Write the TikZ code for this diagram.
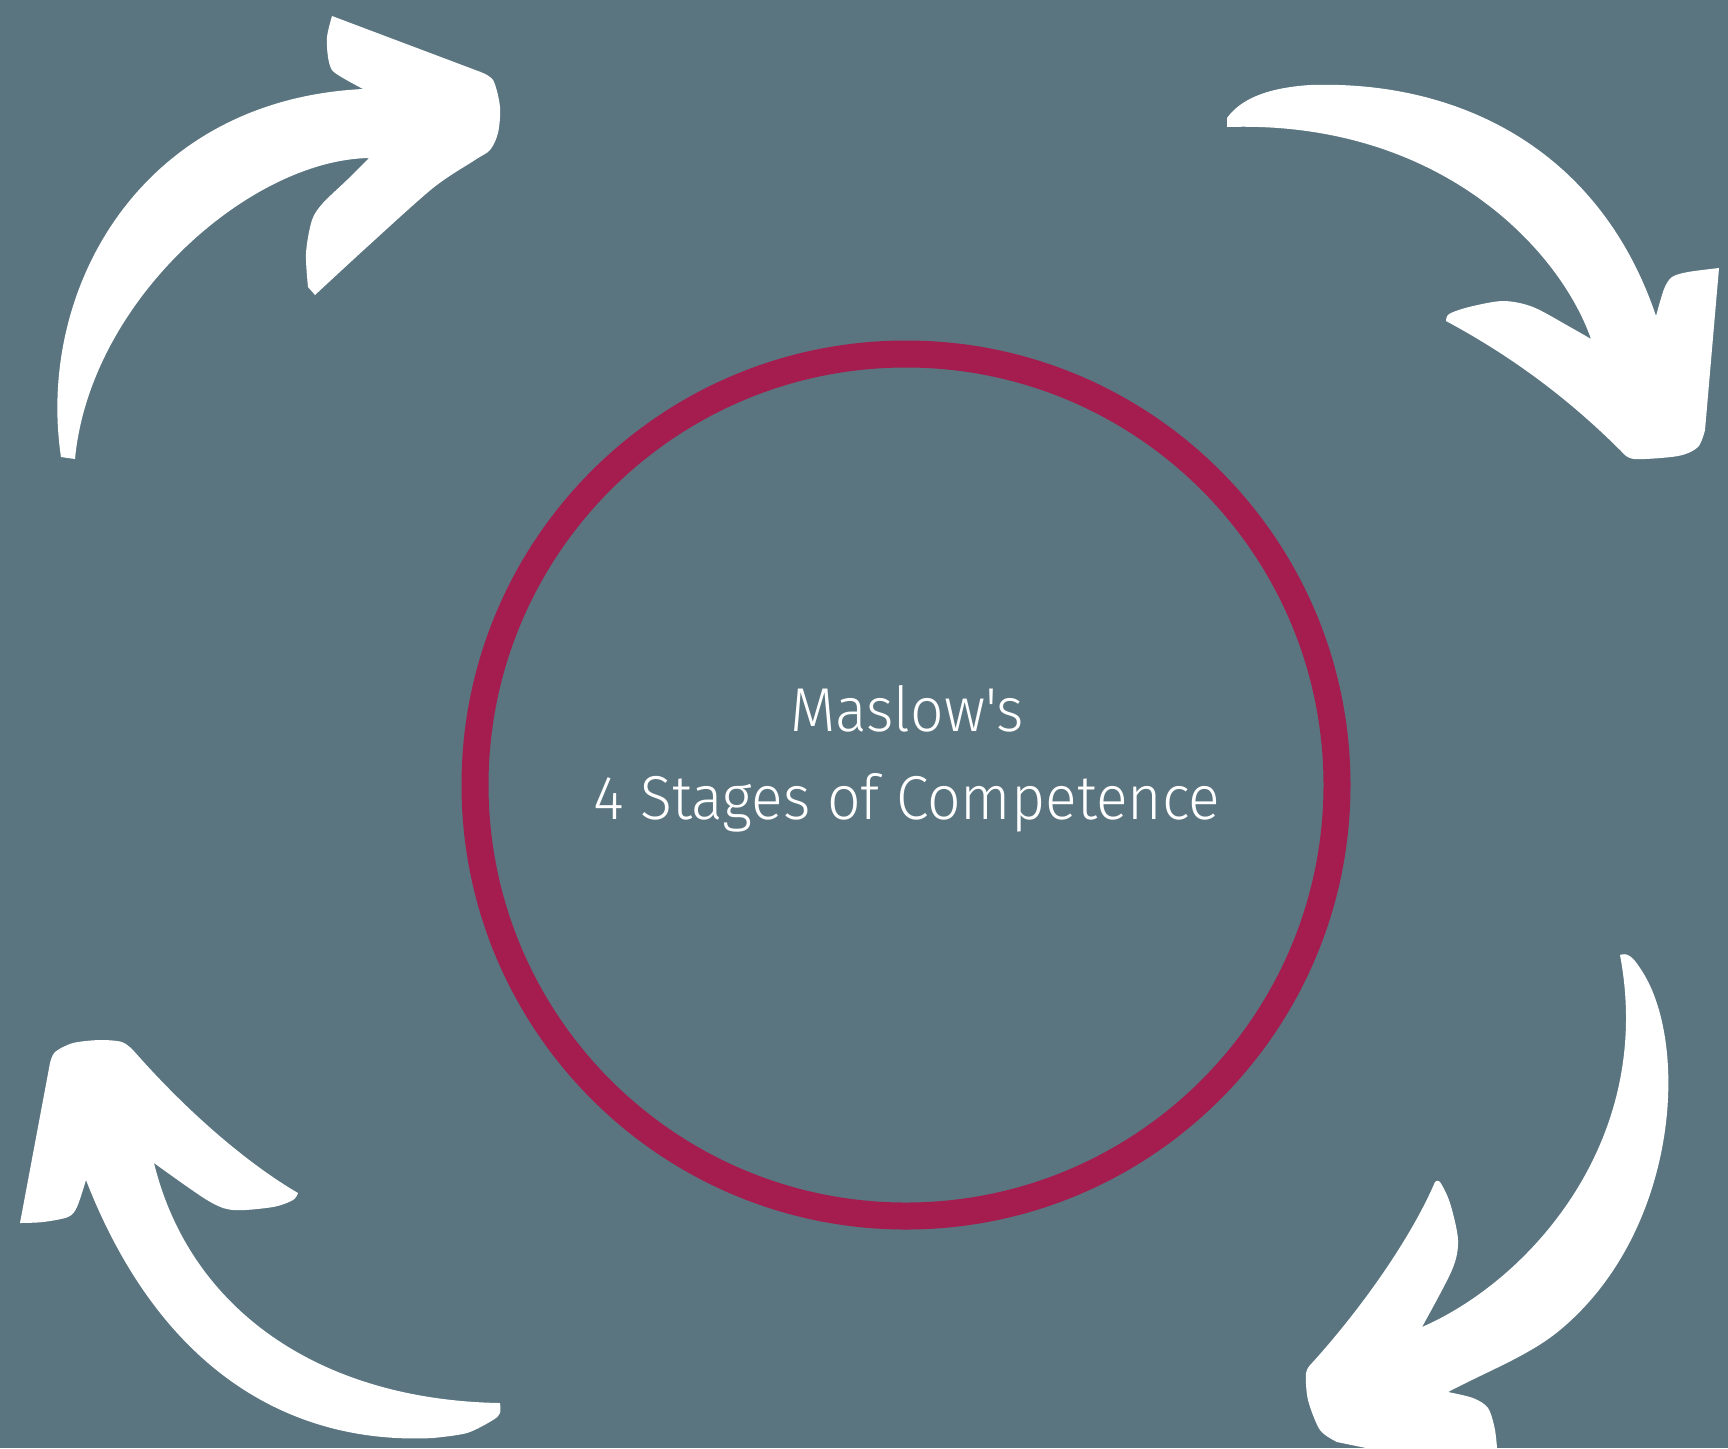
\documentclass[tikz,border=0pt]{standalone}
\usepackage{fontspec}
\newfontfamily\titlefont{Fira Sans Light}[FakeStretch=0.95]
\definecolor{slate}{HTML}{5A7580}
\definecolor{ringred}{HTML}{A51D4F}
\tikzset{
  arrowfill/.style={fill=white},
  titletext/.style={text=white,font=\titlefont\fontsize{31pt}{38pt}\selectfont,inner sep=0pt,anchor=base}
}
\begin{document}
\begin{tikzpicture}[x=0.5pt,y=-0.5pt]
  \useasboundingbox (0,0) rectangle (1728,1448);
  \fill [slate] (0,0) rectangle (1728,1448);
  \clip (0,0) rectangle (1728,1448);
  \node (ring) at (906,785) [draw=ringred,line width=13.5pt,circle,minimum size=431pt,inner sep=0pt] {};
  \node (maslow) at (907,731) [titletext] {Maslow's};
  \node (stages) at (907,819) [titletext] {4 Stages of Competence};
  % top left
  \fill [arrowfill] (75,459) -- (61,457) .. controls (36,290) and (140,100) .. (363,89)
    -- plot[smooth] coordinates {(363,89) (343,78) (332,70) (328,57) (327,37) (332,16)}
    -- plot[smooth] coordinates {(478,71) (493,80) (500,107) (498,133) (490,150) (475,160) (433,188) (367,247) (315,295)}
    -- plot[smooth] coordinates {(308,287) (306,253) (312,220) (323,203) (347,180) (369,158)}
    .. controls (250,160) and (90,300) .. (75,459) -- cycle;
  % top right
  \fill [arrowfill] (1227,127) -- (1227,118) .. controls (1240,100) and (1265,88) .. (1310,85) .. controls (1460,80) and (1600,150) .. (1656,316)
    -- plot[smooth] coordinates {(1656,316) (1664,289) (1672,277) (1688,272) (1719,268)}
    -- plot[smooth] coordinates {(1705,430) (1698,447) (1678,456) (1634,459) (1621,451)}
    .. controls (1560,390) and (1500,350) .. (1446,321)
    -- plot[smooth] coordinates {(1446,321) (1449,314) (1469,307) (1503,301) (1533,307) (1570,327) (1591,339)}
    .. controls (1560,250) and (1440,120) .. (1227,127) -- cycle;
  % bottom right
  \fill [arrowfill] (1620,955) .. controls (1627,952) and (1633,957) .. (1640,968) .. controls (1690,1040) and (1680,1230) .. (1560,1330) .. controls (1530,1355) and (1490,1370) .. (1448,1392)
    -- plot[smooth] coordinates {(1448,1392) (1473,1398) (1488,1408) (1495,1430) (1498,1460)}
    -- (1400,1455)
    -- plot[smooth] coordinates {(1337,1442) (1320,1430) (1308,1400) (1306,1373) (1312,1363)}
    .. controls (1360,1310) and (1410,1240) .. (1435,1182)
    -- plot[smooth] coordinates {(1435,1182) (1440,1182) (1450,1203) (1458,1240) (1452,1270) (1422,1327)}
    .. controls (1530,1280) and (1655,1140) .. (1620,955) -- cycle;
  % bottom left
  \fill [arrowfill] plot[smooth] coordinates {(500,1403) (500,1413) (493,1420) (467,1433) (433,1438)}
    .. controls (290,1445) and (160,1370) .. (86,1180)
    -- plot[smooth] coordinates {(86,1180) (77,1207) (68,1217) (43,1222) (20,1223)}
    -- plot[smooth] coordinates {(50,1063) (55,1052) (73,1043) (100,1040) (122,1042) (133,1050)}
    .. controls (190,1115) and (250,1165) .. (298,1193)
    -- plot[smooth] coordinates {(298,1193) (293,1200) (273,1207) (233,1210) (207,1200) (154,1163)}
    .. controls (190,1310) and (320,1400) .. (500,1403) -- cycle;
\end{tikzpicture}
\end{document}
